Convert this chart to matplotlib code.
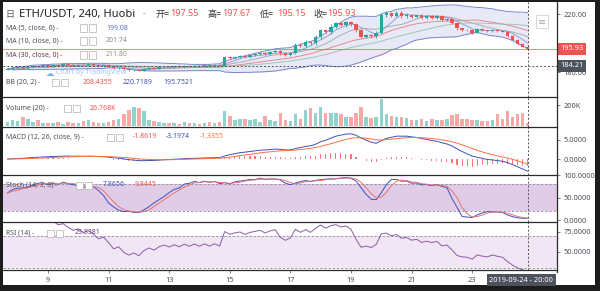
import numpy as np
import pandas as pd
import matplotlib
matplotlib.use('Agg')
import matplotlib.pyplot as plt
from matplotlib.patches import Rectangle
from matplotlib.lines import Line2D
from matplotlib.transforms import blended_transform_factory

plt.rcParams['font.family'] = ['Noto Sans', 'Noto Sans CJK SC', 'DejaVu Sans']

# ETH/USDT 4h candles, Sep 7 16:00 -> Sep 24 20:00
start = '2019-09-07 16:00'
first_open = 181.6
closes = [
    182.0, 182.7,                                   # 7
    183.3, 182.9, 183.8, 184.4, 183.9, 184.6,       # 8
    184.2, 185.0, 184.5, 185.3, 184.8, 184.4,       # 9
    185.1, 184.6, 185.4, 184.9, 184.2, 184.7,       # 10
    183.8, 182.6, 183.1, 181.9, 181.2, 181.7,       # 11
    181.0, 182.2, 182.9, 182.4, 183.3, 183.8,       # 12
    183.4, 184.0, 183.6, 184.3, 183.9, 184.5,       # 13
    184.1, 184.7, 184.3, 184.9, 184.5, 190.2,       # 14
    189.6, 190.4, 191.0, 190.5, 191.6, 192.2,       # 15
    192.9, 192.4, 193.6, 194.3, 192.8, 192.1,       # 16
    193.2, 198.9, 198.1, 200.6, 199.8, 203.9,       # 17
    208.7, 207.6, 211.4, 213.5, 212.6, 214.4,       # 18
    213.2, 209.0, 204.5, 205.4, 204.6, 207.0,       # 19
    219.1, 220.6, 218.9, 220.9, 218.6, 219.6,       # 20
    218.0, 219.0, 217.2, 218.4, 217.6, 218.7,       # 21
    216.2, 216.9, 214.0, 210.1, 209.0, 208.7,       # 22
    207.2, 209.7, 208.8, 208.3, 209.3, 208.5,       # 23
    207.9, 205.0, 202.1, 199.4, 197.55, 195.93,     # 24
]
wick_up = [
    0.6, 0.5,
    0.7, 0.5, 0.6, 0.4, 0.5, 0.6,
    0.5, 0.6, 0.4, 0.5, 0.6, 0.5,
    0.4, 0.6, 0.5, 0.4, 0.6, 0.5,
    0.5, 0.7, 0.4, 0.6, 0.5, 0.6,
    0.6, 0.5, 0.7, 0.4, 0.6, 0.5,
    0.5, 0.4, 0.6, 0.5, 0.4, 0.5,
    0.4, 0.5, 0.4, 0.5, 0.4, 1.2,
    1.0, 0.8, 0.7, 0.9, 0.6, 0.8,
    0.7, 0.9, 0.6, 0.8, 0.7, 0.9,
    0.6, 1.1, 0.9, 1.2, 1.0, 1.4,
    1.1, 1.3, 1.5, 1.0, 1.2, 0.9,
    1.1, 0.8, 0.9, 0.7, 0.8, 1.0,
    1.8, 1.2, 1.0, 1.3, 0.9, 0.8,
    0.7, 0.6, 0.8, 0.5, 0.7, 0.6,
    0.6, 0.7, 0.5, 0.8, 0.6, 0.5,
    0.7, 0.6, 0.8, 0.5, 0.6, 0.7,
    0.5, 0.6, 0.7, 0.5, 0.6, 0.12,
]
wick_dn = [
    0.5, 0.6,
    0.4, 0.6, 0.5, 0.7, 0.4, 0.5,
    0.6, 0.4, 0.5, 0.6, 0.5, 0.4,
    0.5, 0.6, 0.4, 0.7, 0.6, 0.5,
    0.6, 0.5, 0.7, 0.6, 0.8, 0.5,
    0.5, 0.6, 0.4, 0.5, 0.6, 0.4,
    0.4, 0.5, 0.4, 0.6, 0.5, 0.4,
    0.5, 0.4, 0.5, 0.4, 0.5, 0.6,
    0.8, 0.7, 0.9, 0.6, 0.8, 0.7,
    0.6, 0.8, 0.7, 0.6, 0.9, 0.8,
    0.7, 0.9, 0.8, 1.0, 0.9, 1.1,
    1.2, 1.0, 1.3, 1.1, 0.9, 1.2,
    1.3, 1.5, 1.1, 0.9, 1.0, 0.8,
    1.0, 1.2, 1.1, 0.9, 1.3, 1.0,
    0.8, 0.7, 0.9, 0.6, 0.8, 0.7,
    0.7, 0.9, 0.8, 1.2, 0.8, 0.7,
    0.8, 0.6, 0.7, 0.6, 0.5, 0.7,
    0.6, 0.9, 0.8, 0.7, 0.6, 0.78,
]
volume_k = [
    35, 60,
    45, 90, 70, 40, 55, 30,
    30, 25, 40, 20, 35, 25,
    30, 45, 60, 35, 25, 30,
    40, 55, 70, 110, 150, 185,
    175, 140, 60, 45, 35, 30,
    25, 30, 20, 35, 25, 30,
    20, 25, 35, 30, 40, 140,
    95, 60, 70, 65, 60, 70,
    40, 100, 55, 50, 125, 60,
    45, 115, 70, 150, 175, 120,
    185, 120, 125, 120, 115, 90,
    85, 120, 185, 90, 80, 85,
    260, 110, 95, 90, 85, 75,
    60, 55, 70, 50, 65, 55,
    60, 70, 105, 110, 70, 65,
    60, 55, 45, 50, 55, 110,
    70, 140, 90, 115, 120, 27,
]
tick_days = [9, 11, 13, 15, 17, 19, 21, 23]
cross_price = 184.21
cross_time = '2019-09-24 - 20:00'

UP, DN = '#26a69a', '#ef5350'
TXT = '#4a4e5a'

c = pd.Series(closes)
o = pd.Series([first_open] + closes[:-1])
hi = np.maximum(o, c) + np.array(wick_up)
lo = np.minimum(o, c) - np.array(wick_dn)
idx = np.arange(len(c))
t0 = pd.Timestamp(start)
tick_pos = [(pd.Timestamp(2019, 9, d) - t0) / pd.Timedelta('4h') for d in tick_days]
last = len(c) - 1

ma5 = c.rolling(5, min_periods=1).mean()
ma10 = c.rolling(10, min_periods=1).mean()
ma30 = c.rolling(30, min_periods=1).mean()
basis = c.rolling(20, min_periods=1).mean()
sd = c.rolling(20, min_periods=1).std(ddof=0)
upper, lower = basis + 2 * sd, basis - 2 * sd

macd = c.ewm(span=12, adjust=False).mean() - c.ewm(span=26, adjust=False).mean()
signal = macd.ewm(span=9, adjust=False).mean()
hist = macd - signal

ll = lo.rolling(14, min_periods=1).min()
hh = hi.rolling(14, min_periods=1).max()
k = (100 * (c - ll) / (hh - ll)).rolling(3, min_periods=1).mean()
d = k.rolling(3, min_periods=1).mean()

delta = c.diff()
gain = delta.clip(lower=0).ewm(alpha=1 / 14, adjust=False).mean()
loss = (-delta.clip(upper=0)).ewm(alpha=1 / 14, adjust=False).mean()
rsi = 100 - 100 / (1 + gain / loss)

W, H = 600, 291
X0, X1 = 3, 557
fig = plt.figure(figsize=(6, 2.91), dpi=100, facecolor='#1c1c1c')
fig.patches.append(Rectangle((3 / W, 1 - 285 / H), 592 / W, 283 / H,
                             transform=fig.transFigure, fc='white', ec='none', zorder=-5))


def panel(y0, y1, ylim, yticks, ylabels):
    ax = fig.add_axes([X0 / W, 1 - y1 / H, (X1 - X0) / W, (y1 - y0) / H])
    ax.set_xlim(-0.91, 108.8)
    ax.set_ylim(*ylim)
    for s in ax.spines.values():
        s.set_visible(False)
    ax.yaxis.tick_right()
    ax.set_yticks(yticks)
    ax.set_yticklabels(ylabels)
    ax.tick_params(axis='y', length=2.5, width=0.5, pad=2, labelsize=5.3,
                   colors=TXT)
    ax.tick_params(axis='x', bottom=False, labelbottom=False)
    ax.axvline(last, color='#555', lw=0.7, ls=(0, (2, 2)), zorder=6)
    return ax


def hline(y, x0=X0, x1=X1, color='#2b2b2b', lw=0.9):
    fig.add_artist(Line2D([x0 / W, x1 / W], [1 - y / H] * 2, color=color, lw=lw))


def txt(x, y, s, color=TXT, size=5.0, **kw):
    fig.text(x / W, 1 - y / H, s, color=color, fontsize=size, va='center', ha='left', **kw)


def icons(x, y):
    for dx in (0, 9):
        fig.add_artist(Rectangle(((x + dx) / W, 1 - (y + 3.5) / H), 7 / W, 7 / H,
                                 transform=fig.transFigure, fc='white', ec='#b0b0b0', lw=0.5))


# main price panel
ax = panel(2, 97, (162.8, 228.3), [180, 220], ['180.00', '220.00'])
ax.fill_between(idx, lower, upper, color='#c5cae9', alpha=0.4, lw=0)
ax.plot(idx, upper, color='#5c6bc0', lw=0.7, alpha=0.8)
ax.plot(idx, lower, color='#5c6bc0', lw=0.7, alpha=0.8)
ax.plot(idx, basis, color='#e57373', lw=0.7, alpha=0.8)
ax.plot(idx, ma5, color='#7e8fd1', lw=0.7, alpha=0.8)
ax.plot(idx, ma10, color='#9e9e9e', lw=0.7, alpha=0.8)
ax.plot(idx, ma30, color='#8fbfa8', lw=0.7, alpha=0.8)
cols = np.where(c >= o, UP, DN)
ax.vlines(idx, lo, hi, colors=cols, lw=0.6, zorder=3)
ax.bar(idx, np.maximum(np.abs(c - o), 0.25), bottom=np.minimum(o, c), width=0.7,
       color=cols, zorder=4, lw=0)
ax.axhline(closes[-1], color=DN, lw=0.7, alpha=0.7)
ax.axhline(cross_price, color='#555', lw=0.7, ls=(0, (2, 2)), zorder=6)
tr = blended_transform_factory(ax.transAxes, ax.transData)
ax.text(1 + 3 / 554, closes[-1], f'{closes[-1]:.2f}', transform=tr, color='white',
        fontsize=5.3, va='center', ha='left', zorder=10, clip_on=False,
        bbox=dict(boxstyle='square,pad=0.35', fc=DN, ec='none'))
ax.text(1 + 3 / 554, cross_price, f'{cross_price:.2f}', transform=tr, color='white',
        fontsize=5.3, va='center', ha='left', zorder=10, clip_on=False,
        bbox=dict(boxstyle='square,pad=0.35', fc='#4c525e', ec='none'))
# little settings button near the top right
ax.text(1 - 15 / 554, 0.79, '\u2261', transform=ax.transAxes, color='#b0b0b0',
        fontsize=7, ha='center', va='center', family='DejaVu Sans', zorder=7,
        bbox=dict(boxstyle='square,pad=0.15', fc='white', ec='#c8c8c8', lw=0.5))

# volume
axv = panel(97, 127, (-9, 276), [200], ['200K'])
axv.bar(idx, volume_k, width=0.7, color=cols, alpha=0.5, lw=0)

# MACD
axm = panel(127, 175, (-4.21, 8.42), [0, 5], ['0.0000', '5.0000'])
axm.bar(idx, hist, width=0.22, color='#ff5252', alpha=0.8, lw=0)
axm.plot(idx, macd, color='#3f51b5', lw=0.7)
axm.plot(idx, signal, color='#ff7043', lw=0.7)

# Stoch
axs = panel(175, 222, (-4.4, 100), [0, 50, 100], ['0.0000', '50.0000', '100.0000'])
axs.axhspan(20, 80, color='#c49bd0', alpha=0.5, lw=0)
for lvl in (20, 80):
    axs.axhline(lvl, color='#8e8e9e', lw=0.6, ls=(0, (3, 2)))
axs.plot(idx, k, color='#3f51b5', lw=0.7)
axs.plot(idx, d, color='#e57373', lw=0.7)

# RSI
axr = panel(222, 270, (27.5, 87.5), [50, 75], ['50.0000', '75.0000'])
axr.axhspan(30, 70, color='#eadcf0', alpha=0.7, lw=0)
for lvl in (30, 70):
    axr.axhline(lvl, color='#8e8e9e', lw=0.6, ls=(0, (3, 2)))
axr.plot(idx, rsi, color='#8e5aa8', lw=0.7)
axr.set_xticks(tick_pos)
axr.set_xticklabels([str(dd) for dd in tick_days])
axr.tick_params(axis='x', bottom=True, labelbottom=True, length=2, width=0.5,
                pad=3, labelsize=5.3, colors=TXT)
# time label sits against the price scale, like the platform does
axr.text(1 - 4 / 554, -0.21, cross_time, transform=axr.transAxes, color='white',
         fontsize=5.3, ha='right', va='center', clip_on=False, zorder=10,
         bbox=dict(boxstyle='square,pad=0.35', fc='#4c525e', ec='none'))

# panel separators and price scale border
for yy in (97, 127, 175, 222, 270):
    hline(yy)
fig.add_artist(Line2D([X1 / W] * 2, [1 - 2 / H, 1 - 272 / H], color='#2b2b2b', lw=0.9))

# legends
txt(5, 14, '日', color='#555', size=6.5)
txt(19, 14, 'ETH/USDT, 240, Huobi', color='#222', size=8)
txt(143, 14, '-', color='#999', size=6)
for lx, lab, vx, val in [(155, '开=', 170, '197.55'), (208, '高=', 222, '197.67'),
                         (260, '低=', 277, '195.15'), (313, '收=', 327, '195.93')]:
    txt(lx, 14, lab, color='#333', size=6.5)
    txt(vx, 14, val, color=DN, size=6.5)

for yy, lab, val, vc in [(28, 'MA (5, close, 0)', '199.08', '#5c6bc0'),
                         (41, 'MA (10, close, 0)', '201.74', '#8a8a8a'),
                         (55, 'MA (30, close, 0)', '211.80', '#6fa88c')]:
    txt(6, yy, lab + ' -')
    icons(80, yy)
    txt(106, yy, val, color=vc)

txt(6, 82, 'BB (20, 2) -')
icons(52, 82)
txt(83, 82, '208.4355', color=DN)
txt(123, 82, '220.7189', color='#3f51b5')
txt(163, 82, '195.7521', color='#3f51b5')
txt(46, 73, '\u2601', color='#5b9cf0', size=6, family='DejaVu Sans', alpha=0.8)
txt(56, 73, 'Chart by TradingView', color='#8ab4f8', size=5.0, alpha=0.8)

txt(6, 108, 'Volume (20) -')
icons(64, 108)
txt(90, 108, '26.768K', color=DN)

txt(6, 137, 'MACD (12, 26, close, 9) -')
icons(107, 137)
txt(133, 137, '-1.8619', color=DN)
txt(166, 137, '-3.1974', color='#3f51b5')
txt(200, 137, '-1.3355', color='#ff7043')

txt(6, 185, 'Stoch (14, 3, 3) -')
icons(76, 185)
txt(103, 185, '7.8656', color='#3f51b5')
txt(135, 185, '9.8445', color=DN)

txt(6, 233, 'RSI (14) -')
icons(47, 233)
txt(75, 233, '29.8381', color='#6a3d8a')

fig.savefig('out.png', dpi=100, facecolor=fig.get_facecolor())
